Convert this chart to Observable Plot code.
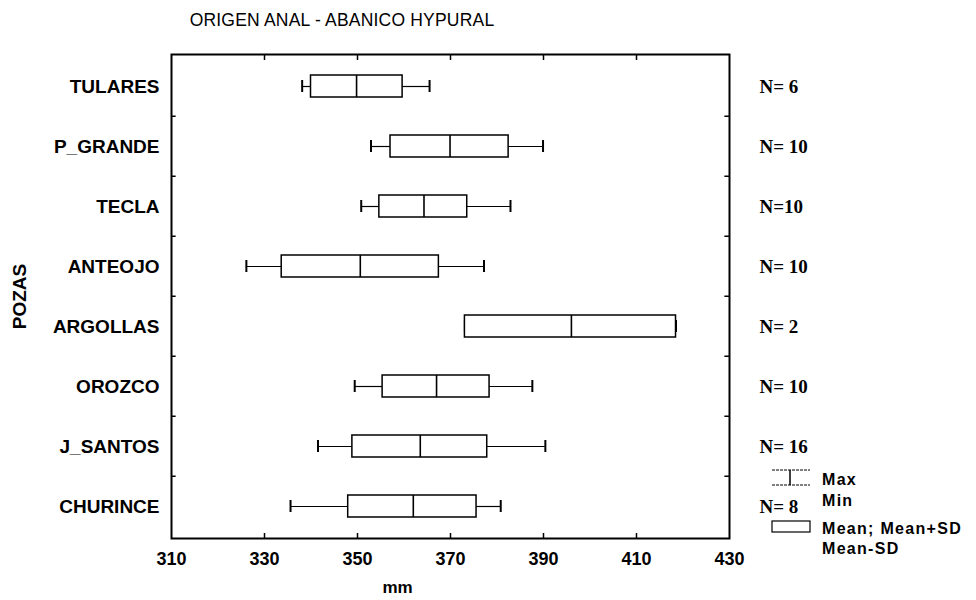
<!DOCTYPE html>
<html>
<head>
<meta charset="utf-8">
<script src="https://cdn.jsdelivr.net/npm/d3@7"></script>
<script src="https://cdn.jsdelivr.net/npm/@observablehq/plot@0.6"></script>
<style>
  html, body { margin: 0; padding: 0; background: #fff; }
  #wrap { position: relative; width: 976px; height: 600px; font-family: "Liberation Sans", Arial, sans-serif; }
  #chart { position: absolute; left: 0; top: 0; }
  #title { position: absolute; left: 0; top: 10px; width: 684px; text-align: center; font-size: 17.5px; letter-spacing: 0.2px; color: #000; }
  #legend { position: absolute; left: 760px; top: 460px; }
</style>
</head>
<body>
<div id="wrap">
  <div id="chart"></div>
  <div id="title">ORIGEN ANAL - ABANICO HYPURAL</div>
  <svg id="legend" width="216" height="110" font-family="Liberation Sans, Arial, sans-serif" font-size="16" font-weight="bold">
    <line x1="12" y1="10" x2="50" y2="10" stroke="#000" stroke-width="1" stroke-dasharray="3,1"/>
    <line x1="12" y1="25" x2="50" y2="25" stroke="#000" stroke-width="1" stroke-dasharray="3,1"/>
    <line x1="30" y1="10" x2="30" y2="25" stroke="#000" stroke-width="1.5"/>
    <rect x="12" y="61" width="38" height="11" fill="#fff" stroke="#000" stroke-width="1.2"/>
    <text x="62" y="21" dominant-baseline="middle" letter-spacing="1.3">Max</text>
    <text x="62" y="42" dominant-baseline="middle" letter-spacing="1.3">Min</text>
    <text x="62" y="70" dominant-baseline="middle" letter-spacing="1.3">Mean; Mean+SD</text>
    <text x="62" y="90" dominant-baseline="middle" letter-spacing="1.3">Mean-SD</text>
  </svg>
</div>
<script>
const pozas  = ["TULARES", "P_GRANDE", "TECLA", "ANTEOJO", "ARGOLLAS", "OROZCO", "J_SANTOS", "CHURINCE"];
const minVals = [338.1, 352.9, 350.8, 326.1, 373.1, 349.4, 341.5, 335.6];
const sdLow   = [340.0, 357.1, 354.7, 333.7, 373.1, 355.4, 348.9, 348.0];
const means   = [349.8, 369.9, 364.3, 350.6, 396.0, 367.0, 363.5, 362.0];
const sdHigh  = [359.7, 382.5, 373.6, 367.5, 418.5, 378.4, 377.9, 375.6];
const maxVals = [365.5, 389.9, 382.9, 377.2, 418.5, 387.6, 390.4, 380.8];
const nLabels = ["N= 6", "N= 10", "N=10", "N= 10", "N= 2", "N= 10", "N= 16", "N= 8"];
const xTicks  = [310, 330, 350, 370, 390, 410, 430];

const rows = pozas.map((p, i) => ({
  poza: p, min: minVals[i], lo: sdLow[i], mean: means[i], hi: sdHigh[i], max: maxVals[i], n: nLabels[i]
}));

const sans = "Liberation Sans, Arial, sans-serif";
const serif = "Liberation Serif, Times New Roman, serif";

const chart = Plot.plot({
  width: 976,
  height: 600,
  marginLeft: 171,
  marginRight: 247,
  marginTop: 54,
  marginBottom: 62,
  style: { fontFamily: sans, background: "#fff", color: "#000" },
  x: { domain: [310, 430] },
  y: { domain: pozas, padding: 0 },
  marks: [
    // whiskers
    Plot.ruleY(rows, { y: "poza", x1: "min", x2: "lo", stroke: "#000", strokeWidth: 1.2 }),
    Plot.ruleY(rows, { y: "poza", x1: "hi", x2: "max", stroke: "#000", strokeWidth: 1.2 }),
    Plot.tickX(rows, { y: "poza", x: "min", stroke: "#000", strokeWidth: 2, insetTop: 24, insetBottom: 24 }),
    Plot.tickX(rows, { y: "poza", x: "max", stroke: "#000", strokeWidth: 2, insetTop: 24, insetBottom: 24 }),
    // boxes
    Plot.barX(rows, { y: "poza", x1: "lo", x2: "hi", fill: "#fff", stroke: "#000", strokeWidth: 1.5, insetTop: 19, insetBottom: 19 }),
    Plot.tickX(rows, { y: "poza", x: "mean", stroke: "#000", strokeWidth: 1.6, insetTop: 19, insetBottom: 19 }),
    // N labels
    Plot.text(rows, { y: "poza", frameAnchor: "right", text: "n", dx: 30, textAnchor: "start",
      fontFamily: serif, fontWeight: "bold", fontSize: 19 }),
    // inward minor ticks on left/right frame at band boundaries
    Plot.ruleY(pozas.slice(1), { y: d => d, x1: 310, x2: 311, dy: -30.25, stroke: "#000", strokeWidth: 1.5 }),
    Plot.ruleY(pozas.slice(1), { y: d => d, x1: 429, x2: 430, dy: -30.25, stroke: "#000", strokeWidth: 1.5 }),
    // axes
    Plot.axisY({ tickSize: 0, tickPadding: 12, fontSize: 19, fontWeight: "bold",
      label: "POZAS", labelAnchor: "center", labelOffset: 159 }),
    Plot.axisX({ ticks: xTicks, tickSize: 0, tickPadding: 14, fontSize: 18, fontWeight: "bold", label: null }),
    Plot.axisX({ ticks: xTicks.slice(1, -1), anchor: "bottom", tickSize: -5, tickFormat: () => "", label: null, strokeWidth: 1.5 }),
    Plot.axisX({ ticks: xTicks.slice(1, -1), anchor: "top", tickSize: -5, tickFormat: () => "", label: null, strokeWidth: 1.5 }),
    Plot.text(["mm"], { frameAnchor: "bottom", text: d => d, dx: -53, dy: 54, fontSize: 17, fontWeight: "bold", fontFamily: sans }),
    Plot.frame({ stroke: "#000", strokeWidth: 2 })
  ]
});
document.getElementById("chart").appendChild(chart);
</script>
</body>
</html>
